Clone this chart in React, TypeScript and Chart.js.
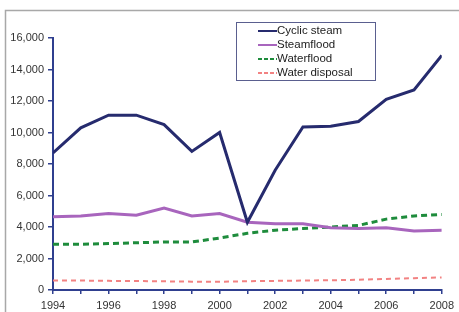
import React, { useEffect, useRef } from "react";
import { Chart, registerables } from "chart.js";

Chart.register(...registerables);

const years = [1994, 1995, 1996, 1997, 1998, 1999, 2000, 2001, 2002, 2003, 2004, 2005, 2006, 2007, 2008];
const cyclicSteam = [8700, 10300, 11100, 11100, 10500, 8800, 10000, 4300, 7600, 10350, 10400, 10700, 12100, 12700, 14900];
const steamflood = [4650, 4700, 4850, 4750, 5200, 4700, 4850, 4300, 4200, 4200, 3950, 3900, 3950, 3750, 3800];
const waterflood = [2900, 2900, 2950, 3000, 3050, 3050, 3300, 3600, 3800, 3900, 4000, 4100, 4500, 4700, 4800];
const waterDisposal = [600, 600, 580, 570, 550, 530, 520, 560, 580, 600, 620, 650, 700, 750, 800];
const seriesNames = ["Cyclic steam", "Steamflood", "Waterflood", "Water disposal"];

const AXIS = "#2f3f8f";
const FONT = "'Liberation Sans', Arial, sans-serif";

const framePlugin = {
  id: "frame",
  beforeDraw(chart: any) {
    const ctx = chart.ctx;
    ctx.save();
    ctx.fillStyle = "#fff";
    ctx.fillRect(0, 0, chart.width, chart.height);
    ctx.strokeStyle = "#a8a8a8";
    ctx.lineWidth = 1.5;
    ctx.beginPath();
    ctx.moveTo(5.5, chart.height);
    ctx.lineTo(5.5, 10.5);
    ctx.lineTo(chart.width, 10.5);
    ctx.stroke();
    ctx.restore();
  },
};

const legendPlugin = {
  id: "boxLegend",
  afterDraw(chart: any) {
    const ctx = chart.ctx;
    const x0 = 236, y0 = 22, w = 139, h = 58;
    ctx.save();
    ctx.fillStyle = "#fff";
    ctx.fillRect(x0, y0, w, h);
    ctx.strokeStyle = "#5a5f8f";
    ctx.lineWidth = 1;
    ctx.strokeRect(x0 + 0.5, y0 + 0.5, w, h);
    ctx.font = `11.5px ${FONT}`;
    ctx.textBaseline = "middle";
    chart.data.datasets.forEach((ds: any, i: number) => {
      const y = y0 + 9 + i * 14;
      ctx.strokeStyle = ds.borderColor;
      ctx.lineWidth = 2;
      ctx.setLineDash(ds.borderDash && ds.borderDash.length ? [4, 2] : []);
      ctx.beginPath();
      ctx.moveTo(258, y);
      ctx.lineTo(277, y);
      ctx.stroke();
      ctx.setLineDash([]);
      ctx.fillStyle = "#222";
      ctx.fillText(ds.label, 277, y);
    });
    ctx.restore();
  },
};

export default function App() {
  const ref = useRef<HTMLCanvasElement | null>(null);
  useEffect(() => {
    if (!ref.current) return;
    const mk = (label: string, data: number[], color: string, width: number, dash: number[]) => ({
      label,
      data: years.map((y, i) => ({ x: y, y: data[i] })),
      borderColor: color,
      backgroundColor: color,
      borderWidth: width,
      borderDash: dash,
      pointRadius: 0,
      tension: 0,
      fill: false,
    });
    const chart = new Chart(ref.current, {
      type: "line",
      data: {
        datasets: [
          mk(seriesNames[0], cyclicSteam, "#262b6e", 3, []),
          mk(seriesNames[1], steamflood, "#a865bd", 3, []),
          mk(seriesNames[2], waterflood, "#1e8c3c", 3, [6, 4]),
          mk(seriesNames[3], waterDisposal, "#f28282", 2, [5, 4]),
        ],
      },
      options: {
        animation: false,
        responsive: false,
        maintainAspectRatio: false,
        layout: { padding: { top: 38, right: 17, left: 0, bottom: 0 } },
        plugins: { legend: { display: false }, tooltip: { enabled: false } },
        scales: {
          x: {
            type: "linear",
            min: 1994,
            max: 2008,
            border: { color: AXIS, width: 2 },
            grid: { display: true, drawOnChartArea: false, drawTicks: true, tickLength: 4, color: AXIS, lineWidth: 1.5 },
            ticks: {
              stepSize: 1,
              autoSkip: false,
              maxRotation: 0,
              padding: 5,
              color: "#333",
              font: { family: FONT, size: 11 },
              callback: (v: any) => (Number(v) % 2 === 0 ? String(v) : ""),
            },
            afterFit: (s: any) => { s.height = 22; },
          },
          y: {
            min: 0,
            max: 16000,
            border: { color: AXIS, width: 2 },
            grid: { display: true, drawOnChartArea: false, drawTicks: true, tickLength: 5, color: AXIS, lineWidth: 1.5 },
            ticks: {
              stepSize: 2000,
              padding: 4,
              color: "#333",
              font: { family: FONT, size: 11 },
              callback: (v: any) => Number(v).toLocaleString("en-US"),
            },
            afterFit: (s: any) => { s.width = 53; },
          },
        },
      },
      plugins: [framePlugin, legendPlugin],
    });
    return () => chart.destroy();
  }, []);
  return (
    <div style={{ position: "absolute", left: 0, top: 0, width: 459, height: 312 }}>
      <canvas ref={ref} width={459} height={312} style={{ display: "block" }} />
    </div>
  );
}
